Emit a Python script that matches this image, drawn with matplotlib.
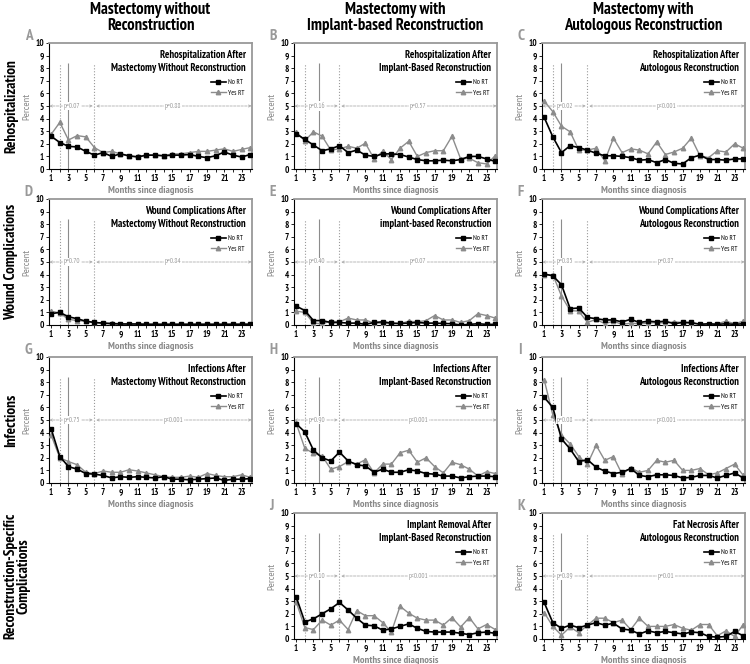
import matplotlib.pyplot as plt
import numpy as np

plt.rcParams['font.family'] = ['PT Sans Narrow', 'DejaVu Sans']

months = list(range(1, 25))

col_titles = ['Mastectomy without\nReconstruction',
              'Mastectomy with\nImplant-based Reconstruction',
              'Mastectomy with\nAutologous Reconstruction']
row_titles = ['Rehospitalization', 'Wound Complications', 'Infections',
              'Reconstruction-Specific\nComplications']

# Rehospitalization
a_no = [2.6, 2.1, 1.8, 1.75, 1.4, 1.1, 1.3, 1.0, 1.2, 1.05, 0.95, 1.1, 1.1, 1.05, 1.1, 1.1, 1.15, 1.0, 0.9, 1.05, 1.35, 1.1, 0.95, 1.15]
a_yes = [2.75, 3.7, 2.3, 2.65, 2.55, 1.7, 1.3, 1.4, 1.2, 1.0, 1.0, 1.1, 1.1, 1.05, 1.2, 1.2, 1.3, 1.4, 1.4, 1.5, 1.6, 1.4, 1.55, 1.7]
b_no = [2.8, 2.35, 1.9, 1.45, 1.6, 1.85, 1.3, 1.5, 1.1, 1.0, 1.2, 1.2, 1.15, 0.95, 0.75, 0.65, 0.65, 0.7, 0.65, 0.75, 1.0, 1.0, 0.8, 0.6]
b_yes = [2.9, 2.25, 2.95, 2.6, 1.5, 1.6, 1.8, 1.65, 2.05, 0.8, 1.4, 0.75, 1.65, 2.2, 1.0, 1.3, 1.45, 1.45, 2.6, 0.8, 0.85, 0.5, 0.4, 1.05]
c_no = [4.1, 2.55, 1.3, 1.85, 1.7, 1.5, 1.25, 1.05, 1.05, 1.0, 0.9, 0.7, 0.75, 0.5, 0.75, 0.45, 0.4, 0.9, 1.1, 0.75, 0.75, 0.7, 0.8, 0.8]
c_yes = [5.4, 4.55, 3.4, 2.95, 1.5, 1.5, 1.65, 0.65, 2.45, 1.3, 1.6, 1.5, 1.2, 2.15, 1.15, 1.35, 1.65, 2.45, 1.05, 0.9, 1.45, 1.35, 2.0, 1.65]

# Wound complications
d_no = [0.9, 1.0, 0.65, 0.5, 0.3, 0.2, 0.15, 0.1, 0.08, 0.08, 0.08, 0.05, 0.05, 0.05, 0.05, 0.05, 0.05, 0.05, 0.05, 0.05, 0.05, 0.05, 0.05, 0.05]
d_yes = [1.1, 0.95, 0.45, 0.35, 0.3, 0.2, 0.15, 0.15, 0.1, 0.08, 0.08, 0.08, 0.08, 0.08, 0.08, 0.08, 0.08, 0.08, 0.08, 0.08, 0.08, 0.08, 0.1, 0.1]
e_no = [1.5, 1.15, 0.35, 0.35, 0.2, 0.2, 0.15, 0.15, 0.05, 0.2, 0.25, 0.15, 0.12, 0.15, 0.2, 0.15, 0.15, 0.12, 0.1, 0.0, 0.05, 0.1, 0.05, 0.05]
e_yes = [1.1, 1.0, 0.15, 0.1, 0.3, 0.25, 0.55, 0.4, 0.4, 0.15, 0.15, 0.1, 0.1, 0.3, 0.25, 0.35, 0.75, 0.4, 0.4, 0.2, 0.35, 0.9, 0.75, 0.55]
f_no = [4.05, 3.9, 3.2, 1.3, 1.35, 0.6, 0.5, 0.4, 0.4, 0.25, 0.45, 0.2, 0.3, 0.25, 0.3, 0.1, 0.2, 0.2, 0.05, 0.1, 0.05, 0.1, 0.05, 0.1]
f_yes = [3.95, 4.0, 2.3, 1.15, 1.1, 0.2, 0.45, 0.1, 0.3, 0.05, 0.15, 0.1, 0.15, 0.2, 0.15, 0.25, 0.2, 0.1, 0.1, 0.05, 0.1, 0.3, 0.1, 0.3]

# Infections
g_no = [4.3, 2.1, 1.3, 1.1, 0.75, 0.7, 0.6, 0.4, 0.5, 0.45, 0.5, 0.45, 0.4, 0.5, 0.3, 0.3, 0.25, 0.3, 0.35, 0.4, 0.2, 0.3, 0.3, 0.35]
g_yes = [3.8, 2.0, 1.7, 1.45, 0.85, 0.75, 0.95, 0.85, 0.85, 1.05, 0.95, 0.8, 0.65, 0.5, 0.45, 0.45, 0.55, 0.45, 0.75, 0.6, 0.5, 0.5, 0.65, 0.45]
h_no = [4.7, 4.05, 2.6, 2.0, 1.75, 2.45, 1.75, 1.45, 1.35, 0.85, 1.1, 0.85, 0.85, 1.05, 0.95, 0.75, 0.7, 0.55, 0.55, 0.4, 0.5, 0.55, 0.55, 0.5]
h_yes = [4.75, 2.75, 2.35, 2.15, 1.1, 1.3, 1.7, 1.5, 1.85, 0.8, 1.5, 1.5, 2.4, 2.6, 1.65, 2.0, 1.3, 0.8, 1.65, 1.45, 1.1, 0.55, 0.9, 0.75]
i_no = [6.8, 6.0, 3.5, 2.7, 1.7, 1.85, 1.25, 0.95, 0.75, 0.85, 1.15, 0.6, 0.5, 0.65, 0.65, 0.6, 0.4, 0.45, 0.6, 0.6, 0.4, 0.6, 0.8, 0.4]
i_yes = [8.2, 5.4, 3.8, 3.1, 2.1, 1.5, 3.0, 1.8, 2.1, 0.7, 1.2, 0.85, 1.0, 1.8, 1.65, 1.8, 1.0, 1.0, 1.15, 0.65, 0.8, 1.15, 1.5, 0.6]

# Reconstruction-specific complications
j_no = [3.35, 1.35, 1.6, 2.0, 2.4, 2.9, 2.3, 1.65, 1.1, 1.05, 0.7, 0.8, 1.0, 1.2, 0.85, 0.6, 0.55, 0.55, 0.55, 0.45, 0.35, 0.5, 0.55, 0.45]
j_yes = [2.95, 0.9, 0.75, 1.5, 1.1, 1.5, 0.75, 2.25, 1.85, 1.85, 1.3, 0.55, 2.6, 2.05, 1.65, 1.5, 1.5, 1.1, 1.7, 0.95, 1.7, 0.8, 1.15, 0.75]
k_no = [2.9, 1.3, 0.85, 1.1, 0.9, 1.1, 1.3, 1.1, 1.25, 0.8, 0.7, 0.4, 0.65, 0.5, 0.6, 0.5, 0.4, 0.55, 0.5, 0.2, 0.15, 0.2, 0.6, 0.25]
k_yes = [2.1, 1.0, 0.3, 0.95, 0.5, 1.1, 1.65, 1.65, 1.3, 1.5, 0.75, 1.65, 1.0, 1.0, 1.0, 1.15, 0.85, 0.7, 1.15, 1.15, 0.25, 0.65, 0.2, 1.15]

# letter, row, col, inner title, no RT, yes RT, p early, p late, solid line x
panels = [
    ('A', 0, 0, 'Rehospitalization After\nMastectomy Without Reconstruction', a_no, a_yes, 'p=0.07', 'p=0.88', 3),
    ('B', 0, 1, 'Rehospitalization After\nImplant-Based Reconstruction', b_no, b_yes, 'p=0.16', 'p=0.57', 3.6),
    ('C', 0, 2, 'Rehospitalization After\nAutologous Reconstruction', c_no, c_yes, 'p=0.02', 'p<0.001', 3),
    ('D', 1, 0, 'Wound Complications After\nMastectomy Without Reconstruction', d_no, d_yes, 'p=0.70', 'p=0.84', 3),
    ('E', 1, 1, 'Wound Complications After\nimplant-based Reconstruction', e_no, e_yes, 'p=0.40', 'p=0.07', 3.6),
    ('F', 1, 2, 'Wound Complications After\nAutologous Reconstruction', f_no, f_yes, 'p=0.85', 'p=0.87', 3),
    ('G', 2, 0, 'Infections After\nMastectomy Without Reconstruction', g_no, g_yes, 'p=0.75', 'p<0.001', 3),
    ('H', 2, 1, 'Infections After\nImplant-Based Reconstruction', h_no, h_yes, 'p=0.90', 'p<0.001', 3.6),
    ('I', 2, 2, 'Infections After\nAutologous Reconstruction', i_no, i_yes, 'p=0.08', 'p<0.001', 3),
    ('J', 3, 1, 'Implant Removal After\nImplant-Based Reconstruction', j_no, j_yes, 'p=0.10', 'p<0.001', 3.6),
    ('K', 3, 2, 'Fat Necrosis After\nAutologous Reconstruction', k_no, k_yes, 'p=0.89', 'p=0.01', 3),
]

W, H = 750, 664
col_left = [49, 294, 542]
row_top = [43, 199, 357, 513]
aw, ah = 203, 126
grey = '#8c8c8c'

fig = plt.figure(figsize=(7.5, 6.64), dpi=100)

for letter, r, c, title, no, yes, p1, p2, xs in panels:
    ax = fig.add_axes([col_left[c] / W, 1 - (row_top[r] + ah) / H, aw / W, ah / H])
    ax.plot(months, no, color='black', marker='s', ms=3, lw=1.2, label='No RT', zorder=4)
    ax.plot(months, yes, color=grey, marker='^', ms=3.2, lw=1.0, label='Yes RT', zorder=3)
    ax.set_xlim(0.75, 24.2)
    ax.set_ylim(0, 10)
    ax.set_xticks(range(1, 25, 2))
    ax.set_xticks(months, minor=True)
    ax.set_yticks(range(0, 11))
    ax.tick_params(labelsize=6.5, length=2, width=0.6, pad=1.5)
    ax.tick_params(which='minor', length=2, width=0.6)
    for lab in ax.get_xticklabels() + ax.get_yticklabels():
        lab.set_fontweight('bold')
    for s in ['top', 'right']:
        ax.spines[s].set_color('#999999')
        ax.spines[s].set_linewidth(1.3)
    for s in ['left', 'bottom']:
        ax.spines[s].set_linewidth(0.8)

    ax.vlines([2, 6], 0, 8.4, colors='#999999', linestyles=':', lw=0.8, zorder=1)
    ax.vlines(xs, 0, 8.4, colors=grey, lw=0.8, zorder=1)

    ax.annotate('', xy=(0.8, 5), xytext=(5.8, 5),
                arrowprops=dict(arrowstyle='<->', color='#a0a0a0', lw=0.5, ls='--',
                                shrinkA=0, shrinkB=0, mutation_scale=4))
    ax.annotate('', xy=(6.2, 5), xytext=(24.15, 5),
                arrowprops=dict(arrowstyle='<->', color='#a0a0a0', lw=0.5, ls='--',
                                shrinkA=0, shrinkB=0, mutation_scale=4))
    ax.text(3.4, 5, p1, ha='center', va='center', fontsize=5, style='italic',
            color='#999999', bbox=dict(fc='white', ec='none', pad=0.6), zorder=5)
    ax.text(15.1, 5, p2, ha='center', va='center', fontsize=5, style='italic',
            color='#999999', bbox=dict(fc='white', ec='none', pad=0.6), zorder=5)

    ax.text(0.97, 0.85, title, transform=ax.transAxes, ha='right', va='center',
            fontsize=7.6, fontweight='bold', linespacing=1.35)
    ax.legend(loc='upper right', bbox_to_anchor=(0.98, 0.74), fontsize=5, frameon=False,
              handlelength=2.2, handletextpad=0.3, labelspacing=0.5, borderpad=0)

    ax.set_ylabel('Percent', fontsize=7.5, color='#8a8a8a', labelpad=3)
    ax.set_xlabel('Months since diagnosis', fontsize=7.5, color='#8a8a8a',
                  fontweight='bold', labelpad=2)
    ax.text(-0.12, 1.0, letter, transform=ax.transAxes, ha='left', va='bottom',
            fontsize=11, fontweight='bold', color='#999999')

for c, t in enumerate(col_titles):
    fig.text((col_left[c] + aw / 2) / W, 1 - 2 / H, t, ha='center', va='top',
             fontsize=12, fontweight='bold', linespacing=1.0)

row_x = [11, 11, 11, 17]
for r, t in enumerate(row_titles):
    fig.text(row_x[r] / W, 1 - (row_top[r] + ah / 2) / H, t, rotation=90,
             ha='center', va='center', fontsize=11, fontweight='bold', linespacing=0.95)

fig.savefig('out.png', dpi=100)
